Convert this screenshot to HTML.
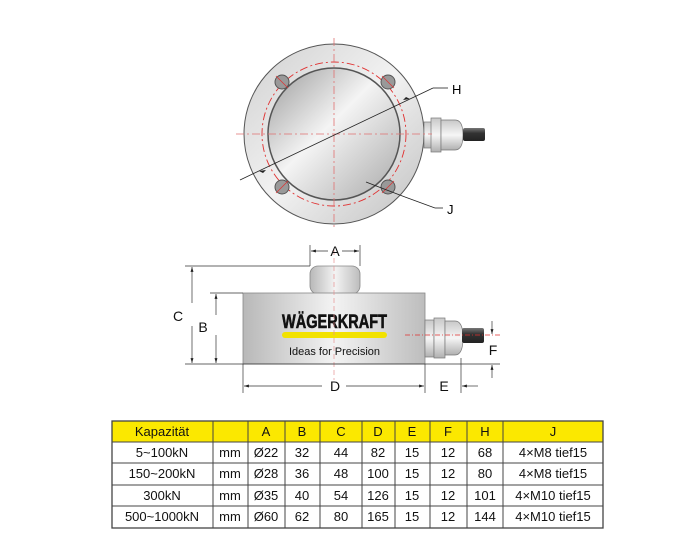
<!DOCTYPE html>
<html><head><meta charset="utf-8"><style>
body{margin:0;background:#fff;}
svg{display:block;font-family:"Liberation Sans",sans-serif;}
</style></head><body>
<svg width="700" height="541" viewBox="0 0 700 541" xmlns="http://www.w3.org/2000/svg">
<defs>
<linearGradient id="mg" x1="0" y1="0" x2="1" y2="1">
<stop offset="0" stop-color="#9a9a9a"/><stop offset="0.45" stop-color="#f4f4f4"/><stop offset="1" stop-color="#a8a8a8"/></linearGradient>
<linearGradient id="og" x1="0" y1="0" x2="1" y2="1">
<stop offset="0" stop-color="#d0d0d0"/><stop offset="0.5" stop-color="#f2f2f2"/><stop offset="1" stop-color="#c0c0c0"/></linearGradient>
<linearGradient id="sg" x1="0" y1="0" x2="1" y2="0">
<stop offset="0" stop-color="#b8b8b8"/><stop offset="0.5" stop-color="#f3f3f3"/><stop offset="1" stop-color="#bdbdbd"/></linearGradient>
<linearGradient id="cg" x1="0" y1="0" x2="0" y2="1">
<stop offset="0" stop-color="#c8c8c8"/><stop offset="0.5" stop-color="#f6f6f6"/><stop offset="1" stop-color="#b0b0b0"/></linearGradient>
<linearGradient id="kg" x1="0" y1="0" x2="0" y2="1">
<stop offset="0" stop-color="#777"/><stop offset="0.4" stop-color="#333"/><stop offset="1" stop-color="#222"/></linearGradient>
<marker id="ar" viewBox="0 0 10 10" refX="10" refY="5" markerWidth="7" markerHeight="7" orient="auto-start-reverse"><path d="M0,2 L10,5 L0,8 z" fill="#222"/></marker>
</defs>

<!-- TOP VIEW -->
<circle cx="334" cy="134" r="90" fill="url(#og)" stroke="#555" stroke-width="1"/>
<g>
<rect x="424" y="122" width="8" height="26" fill="url(#cg)" stroke="#777" stroke-width="0.7"/>
<rect x="431" y="118" width="10" height="34" fill="url(#cg)" stroke="#777" stroke-width="0.7"/>
<path d="M441,120 h14 q8,0 8,15 q0,15 -8,15 h-14z" fill="url(#cg)" stroke="#777" stroke-width="0.7"/>
<rect x="463" y="128" width="22" height="13" rx="2" fill="url(#kg)"/>
</g>
<circle cx="334" cy="134" r="72" fill="none" stroke="#e03030" stroke-width="0.9" stroke-dasharray="8,3,2,3"/>
<circle cx="334" cy="134" r="66" fill="url(#mg)" stroke="#555" stroke-width="1.5"/>
<g fill="#999" stroke="#555" stroke-width="1">
<circle cx="282" cy="82" r="7"/><circle cx="388" cy="82" r="7"/><circle cx="282" cy="187" r="7"/><circle cx="388" cy="187" r="7"/></g>
<g stroke="#e03030" stroke-width="0.7"><line x1="276" y1="76" x2="288" y2="88"/><line x1="382" y1="76" x2="394" y2="88"/><line x1="276" y1="193" x2="288" y2="181"/><line x1="382" y1="193" x2="394" y2="181"/></g>
<g stroke="#e07070" stroke-width="0.8" stroke-dasharray="8,3,2,3">
<line x1="236" y1="134" x2="432" y2="134"/><line x1="334" y1="38" x2="334" y2="230"/></g>
<line x1="240" y1="180" x2="433" y2="88" stroke="#222" stroke-width="0.8"/>
<line x1="433" y1="88" x2="448" y2="88" stroke="#222" stroke-width="0.8"/>
<path d="M259,171 l7,-1 l-3,3z M410,99 l-7,1 l3,-3z" fill="#222"/>
<text x="452" y="94" font-size="13">H</text>
<line x1="366" y1="182" x2="405" y2="197" stroke="#222" stroke-width="0.8"/>
<line x1="405" y1="197" x2="435" y2="208" stroke="#222" stroke-width="0.8"/>
<line x1="435" y1="208" x2="443" y2="208" stroke="#222" stroke-width="0.8"/>
<text x="447" y="214" font-size="13">J</text>

<!-- SIDE VIEW -->
<rect x="310" y="266" width="50" height="28" rx="8" fill="url(#sg)" stroke="#888" stroke-width="0.8"/>
<rect x="243" y="293" width="182" height="71" fill="url(#sg)" stroke="#888" stroke-width="0.8"/>
<rect x="425" y="320" width="9" height="37" fill="url(#cg)" stroke="#777" stroke-width="0.7"/>
<rect x="434" y="318" width="11" height="40" fill="url(#cg)" stroke="#777" stroke-width="0.7"/>
<path d="M445,321 h10 q8,0 8,17 q0,17 -8,17 h-10z" fill="url(#cg)" stroke="#777" stroke-width="0.7"/>
<rect x="462" y="328" width="22" height="15" rx="2" fill="url(#kg)"/>
<text x="334.5" y="328" font-size="19" font-weight="bold" text-anchor="middle" textLength="105" lengthAdjust="spacingAndGlyphs" fill="#111" stroke="#111" stroke-width="0.6">WÄGERKRAFT</text>
<rect x="282" y="332" width="105" height="6" rx="3" fill="#f2e200"/>
<text x="334.5" y="355" font-size="11" text-anchor="middle" fill="#111">Ideas for Precision</text>
<line x1="334" y1="250" x2="334" y2="380" stroke="#e59090" stroke-width="0.7" stroke-dasharray="5,3"/>
<line x1="405" y1="335" x2="500" y2="335" stroke="#e03030" stroke-width="0.7" stroke-dasharray="5,2,1,2"/>
<g stroke="#333" stroke-width="0.7" fill="none">
<line x1="310" y1="245" x2="310" y2="266"/><line x1="360" y1="245" x2="360" y2="266"/>
<line x1="185" y1="266" x2="310" y2="266"/><line x1="210" y1="293" x2="243" y2="293"/>
<line x1="185" y1="364" x2="500" y2="364"/>
<line x1="243" y1="364" x2="243" y2="393"/><line x1="425" y1="364" x2="425" y2="393"/><line x1="461" y1="358" x2="461" y2="393"/>
<line x1="311" y1="251" x2="328" y2="251" marker-start="url(#ar)"/><line x1="342" y1="251" x2="359" y2="251" marker-end="url(#ar)"/>
<line x1="192" y1="267" x2="192" y2="303" marker-start="url(#ar)"/><line x1="192" y1="326" x2="192" y2="363" marker-end="url(#ar)"/>
<line x1="216" y1="294" x2="216" y2="315" marker-start="url(#ar)"/><line x1="216" y1="335" x2="216" y2="363" marker-end="url(#ar)"/>
<line x1="244" y1="386" x2="322" y2="386" marker-start="url(#ar)"/><line x1="346" y1="386" x2="424" y2="386" marker-end="url(#ar)"/>
<line x1="478" y1="386" x2="462" y2="386" marker-end="url(#ar)"/>
<line x1="492" y1="321" x2="492" y2="334" marker-end="url(#ar)"/>
<line x1="492" y1="378" x2="492" y2="365" marker-end="url(#ar)"/>
</g>
<g font-size="14" text-anchor="middle" fill="#111">
<text x="335" y="256">A</text><text x="178" y="321">C</text><text x="203" y="332">B</text>
<text x="335" y="391">D</text><text x="444" y="391">E</text><text x="493" y="355">F</text></g>

<!-- TABLE -->
<rect x="112" y="421" width="491" height="21" fill="#fbe800"/>
<g stroke="#444" stroke-width="1">
<rect x="112" y="421" width="491" height="107" fill="none" stroke-width="1.3"/>
<line x1="112" y1="442" x2="603" y2="442"/><line x1="112" y1="463" x2="603" y2="463"/><line x1="112" y1="485" x2="603" y2="485"/><line x1="112" y1="506" x2="603" y2="506"/>
<line x1="213" y1="421" x2="213" y2="528"/><line x1="248" y1="421" x2="248" y2="528"/><line x1="285" y1="421" x2="285" y2="528"/><line x1="320" y1="421" x2="320" y2="528"/><line x1="362" y1="421" x2="362" y2="528"/><line x1="395" y1="421" x2="395" y2="528"/><line x1="430" y1="421" x2="430" y2="528"/><line x1="467" y1="421" x2="467" y2="528"/><line x1="503" y1="421" x2="503" y2="528"/>
</g>
<g font-size="13" text-anchor="middle" fill="#111">
<text x="162" y="436">Kapazität</text><text x="266" y="436">A</text><text x="302" y="436">B</text><text x="341" y="436">C</text><text x="378" y="436">D</text><text x="412" y="436">E</text><text x="448" y="436">F</text><text x="485" y="436">H</text><text x="553" y="436">J</text>
<text x="162" y="457">5~100kN</text><text x="230" y="457">mm</text><text x="266" y="457">Ø22</text><text x="302" y="457">32</text><text x="341" y="457">44</text><text x="378" y="457">82</text><text x="412" y="457">15</text><text x="448" y="457">12</text><text x="485" y="457">68</text><text x="553" y="457">4×M8 tief15</text>
<text x="162" y="478">150~200kN</text><text x="230" y="478">mm</text><text x="266" y="478">Ø28</text><text x="302" y="478">36</text><text x="341" y="478">48</text><text x="378" y="478">100</text><text x="412" y="478">15</text><text x="448" y="478">12</text><text x="485" y="478">80</text><text x="553" y="478">4×M8 tief15</text>
<text x="162" y="500">300kN</text><text x="230" y="500">mm</text><text x="266" y="500">Ø35</text><text x="302" y="500">40</text><text x="341" y="500">54</text><text x="378" y="500">126</text><text x="412" y="500">15</text><text x="448" y="500">12</text><text x="485" y="500">101</text><text x="553" y="500">4×M10 tief15</text>
<text x="162" y="521">500~1000kN</text><text x="230" y="521">mm</text><text x="266" y="521">Ø60</text><text x="302" y="521">62</text><text x="341" y="521">80</text><text x="378" y="521">165</text><text x="412" y="521">15</text><text x="448" y="521">12</text><text x="485" y="521">144</text><text x="553" y="521">4×M10 tief15</text>
</g>
</svg>
</body></html>
